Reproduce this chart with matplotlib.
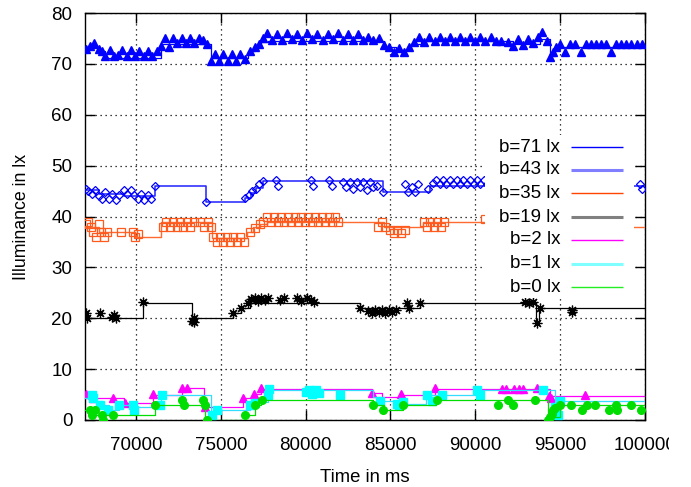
import matplotlib
matplotlib.use("Agg")
import matplotlib.pyplot as plt
from matplotlib.patches import Rectangle
from matplotlib.transforms import Bbox

plt.rcParams['font.family'] = ['Liberation Sans', 'DejaVu Sans']

# ---------------- data ----------------
x_ticks = [70000, 75000, 80000, 85000, 90000, 95000, 100000]
y_ticks = [0, 10, 20, 30, 40, 50, 60, 70, 80]
labels = ["b=71 lx", "b=43 lx", "b=35 lx", "b=19 lx", "b=2 lx", "b=1 lx", "b=0 lx"]

# b=71
s71_t = [67000, 67700, 68200, 71500, 74400, 76600, 77000, 77400, 77800, 84600, 85300, 86200, 86800, 92200, 93800, 94400, 94700, 100000]
s71_v = [73.2, 72.5, 71.2, 74.0, 71.1, 72.5, 73.5, 74.3, 74.4, 73.4, 72.7, 74.0, 74.4, 74.0, 74.8, 71.5, 73.4, 73.4]
p71_t = [67050, 67300, 67550, 67800, 68000, 68200, 68450, 68700, 68950, 69200, 69450, 69700, 69950, 70200, 70450, 70700,
         70950, 71250, 71450, 71700, 71950, 72200, 72450, 72700, 72950, 73200, 73450, 73700, 73950, 74200, 74450, 74650,
         74900, 75150, 75400, 75650, 75900, 76150, 76450, 76700, 77000, 77250, 77500, 77750, 78000, 78300, 78600, 78900,
         79200, 79500, 79800, 80100, 80400, 80700, 81000, 81300, 81600, 81900, 82200, 82500, 82800, 83100, 83400, 83700,
         84000, 84300, 84600, 84900, 85200, 85500, 85800, 86100, 86400, 86700, 87000, 87300, 87600, 87900, 88200, 88500,
         88800, 89100, 89400, 89700, 90000, 90300, 90600, 90900, 91200, 91500, 91900, 92200, 92500, 92800, 93100, 93400,
         93700, 93950, 94200, 94400, 94550, 94750, 95000, 95300, 95600, 95900, 96200, 96500, 96800, 97100, 97400, 97700,
         98000, 98300, 98600, 98900, 99200, 99500, 99850]
p71_v = [73.0, 73.5, 74.2, 73.0, 72.5, 71.5, 72.8, 71.5, 71.8, 72.8, 71.5, 72.8, 71.5, 72.6, 71.5, 72.6,
         71.5, 72.6, 73.5, 75.0, 73.4, 75.0, 74.2, 75.0, 74.2, 75.0, 74.2, 75.0, 74.6, 74.0, 70.5, 72.0,
         70.5, 72.0, 70.5, 72.0, 70.5, 72.0, 71.0, 72.5, 73.3, 74.0, 75.0, 76.0, 74.7, 75.8, 74.7, 76.0,
         74.8, 75.8, 74.7, 76.0, 74.8, 75.8, 74.7, 75.8, 74.8, 76.0, 74.7, 75.8, 74.7, 75.8, 74.7, 75.3,
         74.7, 75.0, 73.8, 73.4, 72.4, 73.2, 72.4, 73.4, 74.3, 75.3, 74.3, 75.3, 74.5, 75.3, 74.5, 75.3,
         74.5, 75.3, 74.5, 75.3, 74.5, 75.3, 74.5, 75.3, 74.5, 74.5, 74.3, 73.6, 74.8, 73.8, 74.8, 74.2,
         75.2, 76.2, 74.5, 71.3, 72.3, 73.4, 73.9, 72.4, 73.9, 73.9, 72.4, 73.9, 73.9, 73.9, 73.9, 73.9,
         72.4, 73.9, 73.9, 73.9, 73.9, 73.9, 73.9]

# b=43
s43_t = [67000, 67800, 69300, 71130, 74130, 76430, 76800, 77100, 77500, 84560, 87330, 100000]
s43_v = [45.2, 44.5, 44.0, 46.0, 42.9, 43.6, 44.6, 45.6, 47.0, 44.9, 46.0, 46.0]
p43_t = [67050, 67200, 67400, 67600, 67800, 68000, 68200, 68400, 68600, 68800, 69000, 69300, 69500, 69700, 69900,
         70100, 70300, 70500, 70700, 70900, 71130, 74130, 76430, 76650, 76850, 77050, 77250, 77500, 78250, 78400,
         80300, 80450, 81400, 81550, 82200, 82400, 82600, 82800, 83000, 83200, 83400, 83600, 83800, 84000, 84200,
         84560, 85850, 86050, 86250, 86450, 86650, 87200, 87500, 87700, 87900, 88100, 88300, 88500, 88700, 88900,
         89100, 89300, 89500, 89700, 89900, 90100, 90300, 90500, 90700, 99700, 99800]
p43_v = [45.5, 45.0, 44.5, 45.2, 44.0, 43.5, 44.8, 43.5, 44.5, 43.3, 44.2, 45.3, 44.5, 45.2, 44.2,
         43.5, 44.4, 43.3, 44.2, 43.5, 46.0, 42.9, 43.6, 44.2, 45.0, 45.5, 46.3, 47.0, 47.1, 46.0,
         47.1, 46.0, 47.1, 46.0, 46.8, 45.8, 46.8, 45.5, 46.8, 45.8, 46.8, 45.2, 46.8, 45.8, 46.0,
         44.9, 46.3, 44.9, 45.8, 44.9, 46.3, 45.5, 46.5, 47.1, 46.3, 47.1, 46.3, 47.1, 46.3, 47.1,
         46.3, 47.1, 46.3, 47.1, 46.3, 47.1, 46.3, 47.1, 46.3, 46.3, 45.5]

# b=35
s35_t = [67000, 67800, 69060, 69950, 71460, 74460, 76530, 76900, 77300, 77700, 84600, 86900, 92000, 100000]
s35_v = [38.0, 37.0, 37.0, 36.0, 39.0, 35.7, 37.0, 38.0, 38.5, 39.0, 38.0, 39.0, 38.0, 38.0]
p35_t = [67050, 67200, 67350, 67500, 67650, 67800, 67950, 68100, 68300, 69100, 69800, 69950, 70100,
         71600, 71800, 72000, 72200, 72400, 72600, 72800, 73000, 73200, 73400, 73800, 74000, 74250, 74450,
         74550, 74750, 74950, 75150, 75350, 75550, 75750, 75950, 76150, 76350, 76700, 77000, 77300, 77500,
         77750, 77950, 78150, 78350, 78550, 78750, 78950, 79150, 79350, 79550, 79750, 79950, 80150, 80350,
         80550, 80750, 80950, 81150, 81350, 81550, 81750, 81930, 84270, 84500, 84700, 85000, 85200, 85400,
         85600, 85850, 86950, 87150, 87350, 87550, 87750, 87950, 88150, 90570]
p35_v = [38.5, 39.0, 38.0, 37.0, 36.0, 38.5, 37.0, 36.0, 37.0, 37.0, 37.0, 36.0, 36.5,
         38.0, 39.0, 38.0, 39.0, 38.0, 39.0, 38.0, 39.0, 38.0, 39.0, 39.0, 38.0, 39.0, 38.0,
         36.0, 35.0, 36.0, 35.0, 36.0, 35.0, 36.0, 35.0, 36.0, 35.0, 37.0, 37.7, 38.5, 39.0,
         40.0, 39.0, 40.0, 39.0, 40.0, 39.0, 40.0, 39.0, 40.0, 39.0, 40.0, 39.0, 40.0, 39.0,
         40.0, 39.0, 40.0, 39.0, 40.0, 39.0, 40.0, 39.0, 38.0, 39.0, 38.0, 37.4, 36.8, 37.4,
         36.8, 37.4, 39.0, 38.0, 39.0, 38.0, 39.0, 38.0, 39.0, 39.5]

# b=19
s19_t = [67000, 70400, 73300, 75700, 76200, 76700, 83200, 86750, 93600, 93750, 100000]
s19_v = [20.0, 23.0, 20.0, 21.0, 22.0, 23.0, 22.0, 23.0, 19.0, 22.0, 22.0]
p19_t = [67060, 67100, 67880, 68600, 68700, 68800, 70400, 73300, 73400, 73450, 75700, 76200, 76600, 76800,
         77000, 77200, 77400, 77600, 77800, 78500, 78700, 79500, 79700, 80100, 80300, 80500, 83200, 83700,
         83900, 84100, 84300, 84500, 84700, 84900, 85100, 85300, 85960, 86100, 86750, 92900, 93150, 93400,
         93620, 93800, 95680, 95720]
p19_v = [21.0, 20.0, 21.0, 20.2, 20.6, 20.0, 23.2, 19.5, 20.0, 19.2, 21.0, 22.0, 23.0, 23.8,
         24.0, 23.3, 24.0, 23.5, 24.0, 23.5, 24.0, 24.0, 23.4, 24.0, 23.5, 23.2, 22.0, 21.5,
         21.0, 21.6, 21.2, 21.6, 21.0, 21.6, 21.2, 21.6, 22.9, 22.0, 23.0, 23.2, 23.0, 23.2,
         19.0, 22.0, 21.6, 21.2]

# b=2
s2_t = [67000, 67400, 69300, 71000, 72700, 74000, 76300, 76900, 77400, 83900, 84500, 85700, 87600, 94400, 100000]
s2_v = [5.0, 4.3, 3.3, 5.0, 6.2, 2.6, 4.3, 5.2, 6.1, 5.4, 4.5, 5.0, 6.1, 4.8, 4.8]
p2_t = [67060, 67460, 68650, 69360, 71000, 72700, 73000, 74070, 76300, 76950, 77400, 83900, 85650, 87630,
        91550, 91800, 92300, 92550, 92800, 93620, 94350, 94450, 96470]
p2_v = [5.1, 4.3, 4.3, 3.3, 5.1, 6.3, 6.3, 2.6, 4.3, 5.2, 6.3, 5.4, 5.1, 6.2,
        6.0, 6.0, 6.0, 6.0, 6.0, 6.2, 4.8, 4.3, 4.9]

# b=1
s1_t = [67000, 67400, 68000, 68400, 69000, 69800, 71500, 74450, 74800, 76700, 77000, 77800, 84000, 84400,
        85400, 87100, 90100, 94000, 94700, 95000, 100000]
s1_v = [4.3, 3.8, 3.0, 2.0, 3.0, 2.5, 4.9, 1.5, 2.0, 3.0, 3.5, 5.9, 4.5, 3.8,
        3.2, 4.9, 5.8, 5.8, 2.0, 3.8, 3.8]
p1_t = [67390, 67450, 67880, 68360, 69000, 69830, 69900, 71420, 71520, 74470, 74760, 76720, 77020, 77800,
        77850, 80000, 80200, 80400, 80600, 80800, 82030, 84380, 85370, 85500, 85750, 87130, 87430, 88020,
        90080, 90280, 94000, 94700, 94850, 95000]
p1_v = [4.9, 4.3, 3.0, 2.0, 3.0, 3.0, 2.0, 3.0, 4.9, 1.0, 2.0, 3.0, 3.3, 4.9,
        6.0, 5.5, 5.8, 5.2, 5.8, 5.3, 4.9, 3.8, 3.2, 3.0, 3.5, 4.9, 3.8, 4.9,
        5.9, 4.9, 5.9, 2.6, 1.0, 3.8]

# b=0
s0_t = [67000, 67600, 71100, 74100, 76400, 77000, 77400, 83950, 84600, 85750, 87700, 94300, 95000, 100000]
s0_v = [2.0, 1.0, 3.0, 0.0, 1.0, 3.0, 3.9, 3.0, 2.0, 3.0, 3.9, 0.5, 3.0, 3.0]
p0_t = [67300, 67390, 67590, 67980, 68050, 68670, 71130, 72700, 72830, 73970, 74070, 74170, 76430, 77020,
        77410, 83950, 84580, 85750, 87720, 91360, 91950, 92230, 93520, 94300, 94400, 94500, 94600, 94700,
        95000, 95650, 96300, 96600, 97040, 97900, 98300, 98350, 99170, 99750]
p0_v = [2.0, 1.0, 2.0, 1.0, 0.0, 1.0, 3.0, 3.9, 3.0, 3.9, 3.0, 0.0, 1.0, 3.0,
        3.9, 3.0, 2.0, 3.0, 3.9, 3.0, 3.9, 3.0, 3.9, 0.0, 0.5, 1.2, 2.0, 2.3,
        3.0, 3.0, 2.0, 3.0, 3.0, 2.0, 3.0, 2.0, 3.0, 2.0]

# ---------------- plot ----------------
fig = plt.figure(figsize=(6.91, 4.87), dpi=100)
ax = fig.add_axes([85 / 691, 1 - 420 / 487, 560 / 691, 407 / 487])

ax.set_xlim(67000, 100000)
ax.set_ylim(0, 80)
ax.set_xticks(x_ticks)
ax.set_yticks(y_ticks)
ax.grid(True, color='black', linestyle=(0, (1, 3)), linewidth=0.9)
ax.set_axisbelow(True)
ax.tick_params(direction='in', length=7, width=1, top=True, right=True, labelsize=13.5)
ax.tick_params(axis='x', pad=12)
ax.tick_params(axis='y', pad=9)
for sp in ax.spines.values():
    sp.set_linewidth(1.0)

lw = 0.9
# b=71
ax.step(s71_t, s71_v, where='post', color='#0000ff', lw=lw, zorder=3)
ax.plot(p71_t, p71_v, ls='none', marker='^', ms=6, color='#0000ff', zorder=3)
# b=43
ax.step(s43_t, s43_v, where='post', color='#2020ff', lw=1.1, zorder=3)
ax.plot(p43_t, p43_v, ls='none', marker='D', ms=4.5, mfc='none', mec='#0000ff', mew=0.9, zorder=3)
# b=35
ax.step(s35_t, s35_v, where='post', color='#ff6a30', lw=1.0, zorder=3)
ax.plot(p35_t, p35_v, ls='none', marker='s', ms=5.5, mfc='none', mec='#ff5a1e', mew=0.9, zorder=3)
# b=19
ax.step(s19_t, s19_v, where='post', color='black', lw=lw, zorder=3)
ax.plot(p19_t, p19_v, ls='none', marker=(8, 2, 0), ms=7, color='black', mew=0.9, zorder=3)
# b=2
ax.step(s2_t, s2_v, where='post', color='#ff00ff', lw=lw, zorder=3)
ax.plot(p2_t, p2_v, ls='none', marker='^', ms=5.5, color='#ff00ff', zorder=3)
# b=1
ax.step(s1_t, s1_v, where='post', color='#33ddff', lw=lw, zorder=3)
ax.plot(p1_t, p1_v, ls='none', marker='s', ms=5.5, color='#00ffff', zorder=3)
# b=0
ax.step(s0_t, s0_v, where='post', color='#00dd00', lw=lw, zorder=3)
ax.plot(p0_t, p0_v, ls='none', marker='o', ms=5.5, color='#00dd00', zorder=3)

# manual gnuplot-style key (opaque, right-aligned text)
leg_colors = ['#0000ff', '#7f7fff', '#ff4500', '#808080', '#ff00ff', '#7fffff', '#22ee22']
leg_widths = [1.0, 2.2, 1.0, 2.2, 1.0, 2.2, 1.0]
ax.add_patch(Rectangle(((485 - 85) / 560, (420 - 298) / 407), (634 - 485) / 560, (298 - 135) / 407,
                       transform=ax.transAxes, facecolor='white', edgecolor='none', zorder=5))
leg_py = [147, 170, 193, 217, 240, 264, 287]
for lab, col, w, py in zip(labels, leg_colors, leg_widths, leg_py):
    yf = (420 - py) / 407
    ax.text((560 - 85) / 560, yf, lab, transform=ax.transAxes, ha='right', va='center',
            fontsize=13.5, zorder=6)
    ax.plot([(571 - 85) / 560, (623 - 85) / 560], [yf, yf], transform=ax.transAxes,
            color=col, lw=w, zorder=6, solid_capstyle='butt')

ax.set_xlabel('Time in ms', fontsize=13.3)
ax.set_ylabel('Illuminance in lx', fontsize=12.8)
ax.xaxis.set_label_coords(0.5, -(478 - 420) / 407)
ax.yaxis.set_label_coords(-(85 - 22) / 560, 0.5)
ax.xaxis.label.set_va('center')
ax.yaxis.label.set_va('center')

fig.canvas.draw()
clip = Bbox.from_extents(0, 0, 669, 487)
for t in ax.get_xticklabels():
    t.set_clip_box(clip)
    t.set_clip_on(True)

fig.savefig('out.png', dpi=100)
